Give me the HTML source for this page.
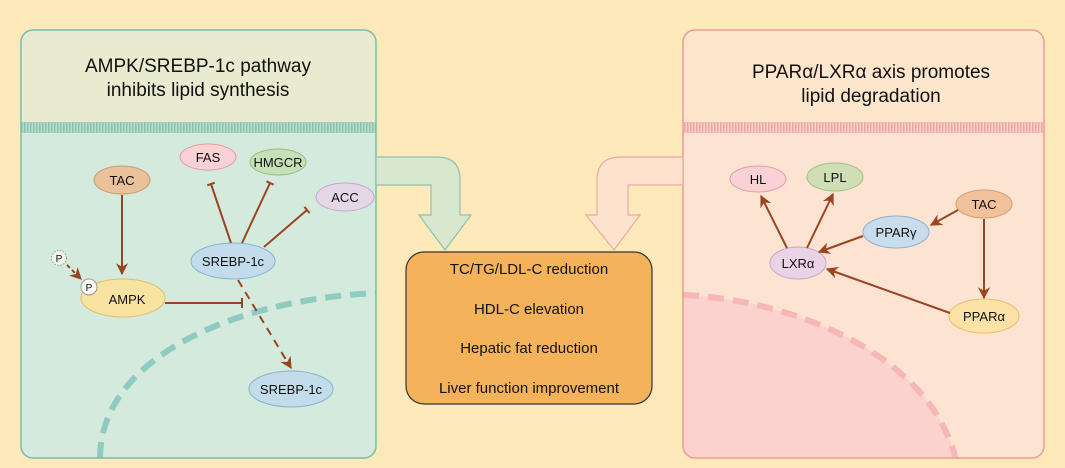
<!DOCTYPE html>
<html><head><meta charset="utf-8"><style>
html,body{margin:0;padding:0;background:#fde9b9;}
svg{display:block;font-family:"Liberation Sans",sans-serif;}
</style></head><body>
<svg width="1065" height="468" viewBox="0 0 1065 468" xmlns="http://www.w3.org/2000/svg">
<defs>
<marker id="ah" viewBox="0 0 10 10" refX="9" refY="5" markerWidth="6" markerHeight="6" orient="auto-start-reverse" markerUnits="strokeWidth"><path d="M0,0 L10,5 L0,10 L3,5 z" fill="#9a4522"/></marker>
<pattern id="gp" width="3" height="3" patternUnits="userSpaceOnUse"><rect width="3" height="3" fill="#b7dcc9"/><rect width="1.5" height="3" fill="#8cc4b2"/></pattern>
<pattern id="pp" width="3" height="3" patternUnits="userSpaceOnUse"><rect width="3" height="3" fill="#f9cfc5"/><rect width="1.5" height="3" fill="#f2a7a6"/></pattern>
<clipPath id="lc"><rect x="21" y="30" width="355" height="428" rx="12"/></clipPath>
<clipPath id="rc"><rect x="683" y="30" width="361" height="428" rx="12"/></clipPath>
</defs>
<rect width="1065" height="468" fill="#fde9b9"/>

<g clip-path="url(#lc)">
<rect x="21" y="30" width="355" height="428" fill="#d4eadc"/>
<rect x="21" y="30" width="355" height="92" fill="#e9ebd0"/>
<rect x="21" y="122" width="355" height="11" fill="url(#gp)"/>
<path d="M100,458 C100,360 230,300 376,293" fill="none" stroke="#8fcbc0" stroke-width="6" stroke-dasharray="16,9"/>
</g>
<rect x="21" y="30" width="355" height="428" rx="12" fill="none" stroke="#7cbcaa" stroke-width="1.5"/>
<text x="198" y="72" font-size="19" text-anchor="middle" fill="#111">AMPK/SREBP-1c pathway</text>
<text x="198" y="96" font-size="19" text-anchor="middle" fill="#111">inhibits lipid synthesis</text>

<g clip-path="url(#rc)">
<rect x="683" y="30" width="361" height="428" fill="#fde3d2"/>
<rect x="683" y="30" width="361" height="92" fill="#fde6cc"/>
<rect x="683" y="122" width="361" height="11" fill="url(#pp)"/>
<path d="M683,295 C800,300 940,360 958,470 L683,470 z" fill="#fbd2cd"/>
<path d="M683,295 C800,300 940,360 958,470" fill="none" stroke="#f6b7b7" stroke-width="6" stroke-dasharray="16,9"/>
</g>
<rect x="683" y="30" width="361" height="428" rx="12" fill="none" stroke="#ea9b98" stroke-width="1.5"/>
<text x="871" y="78" font-size="19" text-anchor="middle" fill="#111">PPARα/LXRα axis promotes</text>
<text x="871" y="102" font-size="19" text-anchor="middle" fill="#111">lipid degradation</text>

<path d="M376,157 L437,157 Q460,157 460,180 L460,215 L471,215 L445,250 L419,215 L431,215 L431,185 L376,185 z" fill="#d7e8cf" stroke="#8fc1ad" stroke-width="1.2"/>
<path d="M683,157 L621,157 Q597,157 597,180 L597,215 L586,215 L614,250 L640,215 L628,215 L628,185 L683,185 z" fill="#fde3cd" stroke="#f0a9a0" stroke-width="1.2"/>

<rect x="406" y="252" width="246" height="152" rx="18" fill="#f4b25a" stroke="#333" stroke-width="1.2"/>
<g font-size="15" text-anchor="middle" fill="#111">
<text x="529" y="274">TC/TG/LDL-C reduction</text>
<text x="529" y="314">HDL-C elevation</text>
<text x="529" y="353">Hepatic fat reduction</text>
<text x="529" y="393">Liver function improvement</text>
</g>

<g stroke-width="1">
<ellipse cx="208" cy="157" rx="28" ry="13" fill="#fad2d5" stroke="#e79aa3"/>
<ellipse cx="278" cy="162" rx="28" ry="13" fill="#c7e0b8" stroke="#94bd83"/>
<ellipse cx="345" cy="197" rx="29" ry="14" fill="#e5d6e8" stroke="#c4a9c9"/>
<ellipse cx="122" cy="180" rx="28" ry="14" fill="#e9c19a" stroke="#c99a6e"/>
<ellipse cx="233" cy="261" rx="42" ry="18" fill="#c2dceb" stroke="#86b3cc"/>
<ellipse cx="123" cy="298" rx="42" ry="19" fill="#f9e3a1" stroke="#e0be6a"/>
<ellipse cx="291" cy="389" rx="42" ry="18" fill="#c2dceb" stroke="#86b3cc"/>
<circle cx="89" cy="287" r="8" fill="#fdfbf2" stroke="#999"/>
<circle cx="59" cy="258" r="7.5" fill="#eef3ea" stroke="#999" stroke-dasharray="1.5,1.5"/>
</g>
<g font-size="13" text-anchor="middle" fill="#111">
<text x="208" y="162">FAS</text>
<text x="278" y="167">HMGCR</text>
<text x="345" y="202">ACC</text>
<text x="122" y="185">TAC</text>
<text x="233" y="266">SREBP-1c</text>
<text x="127" y="304">AMPK</text>
<text x="291" y="394">SREBP-1c</text>
<text x="89" y="291" font-size="10">P</text>
<text x="59" y="262" font-size="10">P</text>
</g>
<g stroke="#9a4522" stroke-width="2" fill="none">
<line x1="122" y1="195" x2="122" y2="274" marker-end="url(#ah)"/>
<line x1="67" y1="265" x2="81" y2="279" marker-end="url(#ah)" stroke-dasharray="4,3"/>
<line x1="231" y1="243" x2="211" y2="184"/><line x1="207.2" y1="185.3" x2="214.8" y2="182.7"/>
<line x1="242" y1="243" x2="270" y2="183"/><line x1="266.4" y1="181.3" x2="273.6" y2="184.7"/>
<line x1="264" y1="247" x2="307" y2="210"/><line x1="304.4" y1="206.9" x2="309.6" y2="213.1"/>
<line x1="165" y1="303" x2="242" y2="303"/><line x1="242" y1="298" x2="242" y2="308"/>
<line x1="238" y1="280" x2="291" y2="368" stroke-dasharray="8,6" marker-end="url(#ah)"/>
</g>

<g stroke-width="1">
<ellipse cx="758" cy="179" rx="28" ry="13" fill="#fad2d5" stroke="#e79aa3"/>
<ellipse cx="835" cy="177" rx="28" ry="14" fill="#cfdfb5" stroke="#a3bf83"/>
<ellipse cx="984" cy="204" rx="28" ry="14" fill="#f1c29c" stroke="#d79d6e"/>
<ellipse cx="896" cy="232" rx="33" ry="16" fill="#c9dceb" stroke="#8cb1cc"/>
<ellipse cx="798" cy="263" rx="28" ry="16" fill="#ead3e6" stroke="#c8a6c4"/>
<ellipse cx="984" cy="316" rx="35" ry="17" fill="#fce2a6" stroke="#ecbd69"/>
</g>
<g font-size="13" text-anchor="middle" fill="#111">
<text x="758" y="184">HL</text>
<text x="835" y="182">LPL</text>
<text x="984" y="209">TAC</text>
<text x="896" y="237">PPARγ</text>
<text x="798" y="268">LXRα</text>
<text x="984" y="321">PPARα</text>
</g>
<g stroke="#9a4522" stroke-width="2" fill="none" marker-end="url(#ah)">
<line x1="787" y1="248" x2="761" y2="196"/>
<line x1="807" y1="248" x2="833" y2="194"/>
<line x1="863" y1="236" x2="819" y2="252"/>
<line x1="958" y1="210" x2="931" y2="225"/>
<line x1="984" y1="219" x2="984" y2="298"/>
<line x1="950" y1="313" x2="827" y2="269"/>
</g>
</svg>
</body></html>
